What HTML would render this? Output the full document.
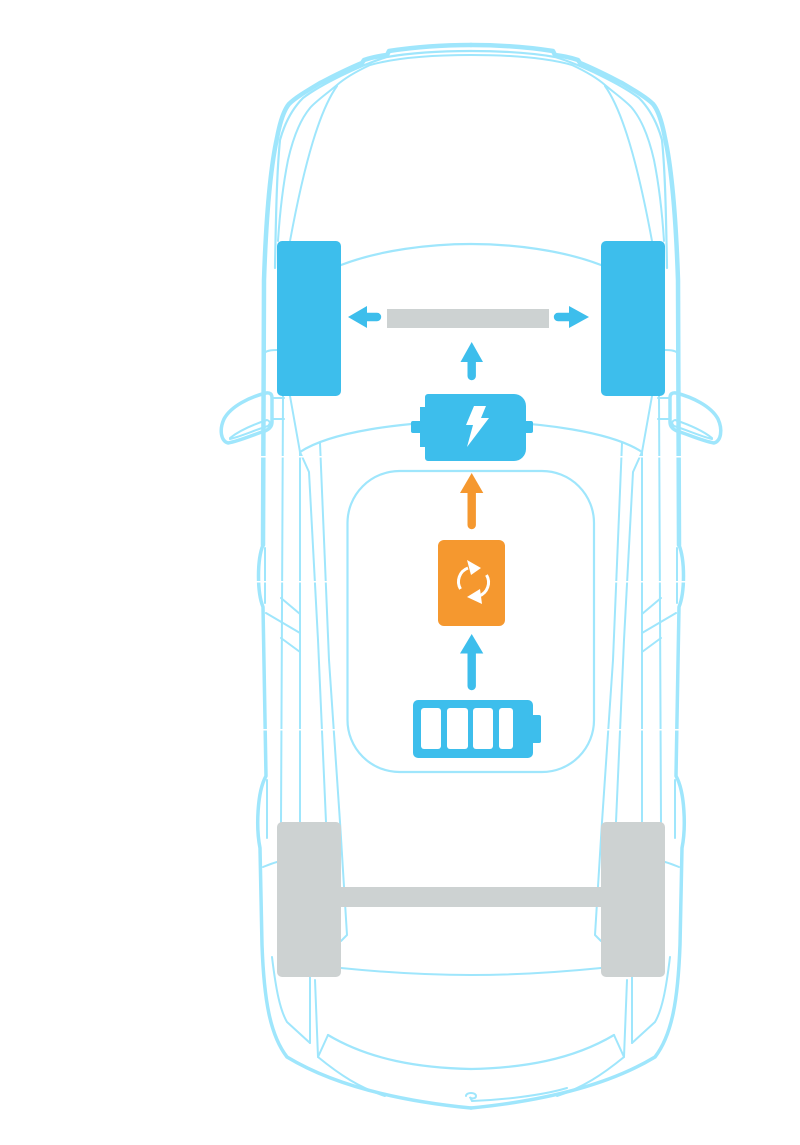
<!DOCTYPE html>
<html><head><meta charset="utf-8"><style>
html,body{margin:0;padding:0;background:#fff;}
svg{display:block;}
</style></head><body>
<svg width="800" height="1145" viewBox="0 0 800 1145" xmlns="http://www.w3.org/2000/svg">
<defs>
<g id="L" fill="none" stroke="#9fe6fc" stroke-linecap="round" stroke-linejoin="round">
  <!-- outer body -->
  <path stroke-width="4.5" d="M471,45 C445,45 415,47 389,51 L387,55 C378,56 370,58 364,60 L362,63 C345,70 330,78 320,83 C305,92 295,98 289,104 C284,110 280,122 277,138 C270,170 266,220 264,280 L263,545"/>
  <path stroke-width="3.5" d="M263,545 C257,560 257,592 263,607 L266,776 C257,792 256,828 260,848 L262,945 C264,1000 270,1035 287,1057 C330,1083 390,1100 471,1108"/>
  <path stroke-width="2" d="M265,548 L265,603"/>
  <path stroke-width="2" d="M267,780 L267,838"/>
  <!-- inner top lines -->
  <path stroke-width="2.2" d="M471,51 C440,51 410,53 387,57 C360,65 320,85 303,98 C293,108 285,122 280,140 C277,170 276,210 275,268"/>
  <path stroke-width="2" d="M471,55 C430,55 395,58 370,65 C355,72 345,78 337,85 C325,95 315,102 310,108 C300,120 293,138 288,160 C283,185 280,210 278,241"/>
  <path stroke-width="2" d="M337,86 C320,110 305,160 290,241"/>
  <!-- hood base arc -->
  <path stroke-width="2.2" d="M341,265 C380,250 430,244 471,244"/>
  <!-- small stub -->
  <path stroke-width="2" d="M264,353 C268,350 273,350 277,350"/>
  <!-- mirror -->
  <path stroke-width="3.5" d="M272,422 L272,398 Q272,392 266,393 C250,397 231,406 224,419 C219,430 221,441 228,443 C240,441 255,434 265,431 Q272,428 272,422 Z"/>
  <path stroke-width="2" d="M230,438 C240,430 255,424 267,420 Q272,422 268,426 C255,430 242,436 230,439 Z"/>
  <path stroke-width="2" d="M272,398 H284 M272,419 H284"/>
  <!-- side lines -->
  <path stroke-width="2" d="M283,396 L281,822"/>
  <path stroke-width="2" d="M290,396 L300,452 L300,822"/>
  <path stroke-width="2" d="M300,452 L309,472 L318,640 L326,822"/>
  <path stroke-width="2" d="M320,443 L329,660 L340,822 L347,935 L341,941"/>
  <!-- windshield arc -->
  <path stroke-width="2.2" d="M300,452 C330,432 400,422 471,421"/>
  <!-- diagonals -->
  <path stroke-width="2" d="M281,598 L300,614 M266,613 L300,633 M281,638 L300,652"/>
  <!-- rear -->
  <path stroke-width="2" d="M263,867 C268,865 273,863 277,862"/>
  <path stroke-width="2" d="M272,957 C276,990 280,1010 287,1022 L310,1043"/>
  <path stroke-width="2" d="M310,977 L310,1043"/>
  <path stroke-width="2" d="M315,980 L318,1057 L328,1035"/>
  <path stroke-width="2.2" d="M328,1035 C370,1060 420,1068 471,1069"/>
  <path stroke-width="2" d="M318,1057 C340,1075 360,1088 385,1096"/>
  <path stroke-width="2" d="M341,968 C400,974 440,975 471,975"/>
</g>
</defs>

<use href="#L"/>
<use href="#L" transform="translate(942,0) scale(-1,1)"/>

<!-- extra bottom hook -->
<g fill="none" stroke="#9fe6fc" stroke-width="2" stroke-linecap="round">
  <path d="M466,1096 C466,1092 476,1092 476,1096 C476,1099 470,1099 470,1097 L472,1101 C500,1100 540,1096 567,1088"/>
</g>

<!-- white gap lines -->
<g fill="#fff">
  <rect x="240" y="456" width="112" height="1.5"/>
  <rect x="590" y="456" width="115" height="1.5"/>
  <rect x="240" y="581" width="112" height="1.5"/>
  <rect x="590" y="581" width="115" height="1.5"/>
  <rect x="240" y="729" width="112" height="1.5"/>
  <rect x="590" y="729" width="115" height="1.5"/>
</g>

<!-- cabin / battery bay -->
<rect x="347.5" y="471" width="246.5" height="301" rx="52" fill="none" stroke="#9fe6fc" stroke-width="2.2"/>

<!-- front wheels -->
<rect x="277" y="241" width="64" height="155" rx="5" fill="#3dbeec"/>
<rect x="601" y="241" width="64" height="155" rx="5" fill="#3dbeec"/>
<!-- rear wheels & axle -->
<rect x="341" y="887" width="260" height="20" fill="#cdd2d2"/>
<rect x="277" y="822" width="64" height="155" rx="5" fill="#cdd2d2"/>
<rect x="601" y="822" width="64" height="155" rx="5" fill="#cdd2d2"/>

<!-- front gray bar -->
<rect x="387" y="309" width="162" height="19" fill="#cdd2d2"/>

<!-- arrows -->
<g fill="#3dbeec" stroke="none">
  <polygon points="348,317 367,306 367,328"/>
  <polygon points="589,317 569,306 569,328"/>
  <polygon points="471.7,342 460.5,362 483,362"/>
  <polygon points="471.7,634 460,653.5 483.3,653.5"/>
</g>
<g stroke="#3dbeec" stroke-width="8.4" stroke-linecap="round" fill="none">
  <line x1="366" y1="317" x2="377" y2="317"/>
  <line x1="558" y1="317" x2="570" y2="317"/>
  <line x1="471.7" y1="360" x2="471.7" y2="376"/>
  <line x1="471.7" y1="652" x2="471.7" y2="686"/>
</g>

<!-- motor -->
<g fill="#3dbeec">
  <path d="M428,394 H514 A12,12 0 0 1 526,406 V449 A12,12 0 0 1 514,461 H428 A3,3 0 0 1 425,458 V447 H420 V407 H425 V397 A3,3 0 0 1 428,394 Z"/>
  <rect x="411" y="421" width="11" height="12" rx="2"/>
  <rect x="524" y="421" width="9" height="12" rx="2"/>
</g>
<polygon fill="#fff" points="474,406 486,406 481,418 489,418 467,447 473,425 466,425"/>

<!-- orange arrow -->
<polygon fill="#f5982f" points="471.7,473 460,493 483.3,493"/>
<line x1="471.7" y1="491" x2="471.7" y2="525" stroke="#f5982f" stroke-width="8.4" stroke-linecap="round"/>

<!-- orange inverter box -->
<rect x="438" y="540" width="67" height="86" rx="6" fill="#f5982f"/>
<g fill="none" stroke="#fff" stroke-width="3">
  <path d="M468,568 A14.5,14.5 0 0 0 460.5,589"/>
  <path d="M486.5,575 A14.5,14.5 0 0 1 479,596"/>
</g>
<g fill="#fff">
  <polygon points="467,560 481,568 471,575"/>
  <polygon points="480,589 467,597 482,604"/>
</g>

<!-- battery -->
<rect x="413" y="700" width="120" height="58" rx="5" fill="#3dbeec"/>
<rect x="529" y="715" width="12" height="28" rx="2" fill="#3dbeec"/>
<g fill="#fff">
  <rect x="421" y="708" width="20" height="41" rx="3"/>
  <rect x="447" y="708" width="21" height="41" rx="3"/>
  <rect x="473" y="708" width="20" height="41" rx="3"/>
  <rect x="499" y="708" width="14" height="41" rx="3"/>
</g>
</svg>
</body></html>
